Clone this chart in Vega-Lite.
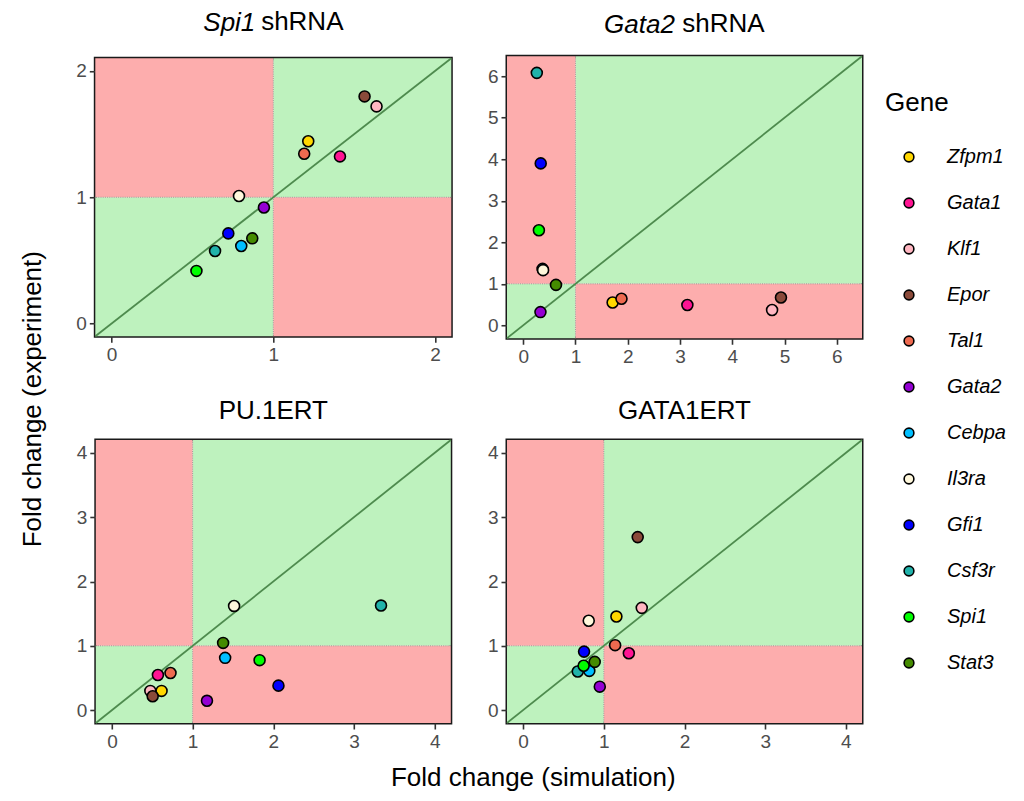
{
  "$schema": "https://vega.github.io/schema/vega-lite/v6.json",
  "padding": {"left": 20, "top": 7, "right": 5, "bottom": 5},
  "datasets": {
    "genes": [
      {"panel": "Spi1", "gene": "Zfpm1", "sim": 1.216, "exp": 1.443},
      {"panel": "Spi1", "gene": "Gata1", "sim": 1.412, "exp": 1.323},
      {"panel": "Spi1", "gene": "Klf1", "sim": 1.638, "exp": 1.719},
      {"panel": "Spi1", "gene": "Epor", "sim": 1.564, "exp": 1.798},
      {"panel": "Spi1", "gene": "Tal1", "sim": 1.191, "exp": 1.344},
      {"panel": "Spi1", "gene": "Gata2", "sim": 0.942, "exp": 0.919},
      {"panel": "Spi1", "gene": "Cebpa", "sim": 0.802, "exp": 0.614},
      {"panel": "Spi1", "gene": "Il3ra", "sim": 0.788, "exp": 1.01},
      {"panel": "Spi1", "gene": "Gfi1", "sim": 0.722, "exp": 0.714},
      {"panel": "Spi1", "gene": "Csf3r", "sim": 0.64, "exp": 0.575},
      {"panel": "Spi1", "gene": "Spi1", "sim": 0.525, "exp": 0.417},
      {"panel": "Spi1", "gene": "Stat3", "sim": 0.87, "exp": 0.675},
      {"panel": "Gata2", "gene": "Zfpm1", "sim": 1.71, "exp": 0.55},
      {"panel": "Gata2", "gene": "Gata1", "sim": 3.14, "exp": 0.49},
      {"panel": "Gata2", "gene": "Klf1", "sim": 4.76, "exp": 0.37},
      {"panel": "Gata2", "gene": "Epor", "sim": 4.93, "exp": 0.67},
      {"panel": "Gata2", "gene": "Tal1", "sim": 1.88, "exp": 0.64},
      {"panel": "Gata2", "gene": "Gata2", "sim": 0.33, "exp": 0.32},
      {"panel": "Gata2", "gene": "Cebpa", "sim": 0.37, "exp": 1.36},
      {"panel": "Gata2", "gene": "Il3ra", "sim": 0.38, "exp": 1.33},
      {"panel": "Gata2", "gene": "Gfi1", "sim": 0.335, "exp": 3.9},
      {"panel": "Gata2", "gene": "Csf3r", "sim": 0.26, "exp": 6.08},
      {"panel": "Gata2", "gene": "Spi1", "sim": 0.3, "exp": 2.29},
      {"panel": "Gata2", "gene": "Stat3", "sim": 0.627, "exp": 0.975},
      {"panel": "PU1", "gene": "Zfpm1", "sim": 0.615, "exp": 0.299},
      {"panel": "PU1", "gene": "Gata1", "sim": 0.57, "exp": 0.546},
      {"panel": "PU1", "gene": "Klf1", "sim": 0.476, "exp": 0.299},
      {"panel": "PU1", "gene": "Epor", "sim": 0.505, "exp": 0.216},
      {"panel": "PU1", "gene": "Tal1", "sim": 0.726, "exp": 0.577},
      {"panel": "PU1", "gene": "Gata2", "sim": 1.178, "exp": 0.145},
      {"panel": "PU1", "gene": "Cebpa", "sim": 1.403, "exp": 0.813},
      {"panel": "PU1", "gene": "Il3ra", "sim": 1.514, "exp": 1.62},
      {"panel": "PU1", "gene": "Gfi1", "sim": 2.064, "exp": 0.381},
      {"panel": "PU1", "gene": "Csf3r", "sim": 3.335, "exp": 1.626},
      {"panel": "PU1", "gene": "Spi1", "sim": 1.83, "exp": 0.777},
      {"panel": "PU1", "gene": "Stat3", "sim": 1.378, "exp": 1.045},
      {"panel": "GATA1", "gene": "Zfpm1", "sim": 1.156, "exp": 1.455},
      {"panel": "GATA1", "gene": "Gata1", "sim": 1.31, "exp": 0.885},
      {"panel": "GATA1", "gene": "Klf1", "sim": 1.47, "exp": 1.59},
      {"panel": "GATA1", "gene": "Epor", "sim": 1.42, "exp": 2.69},
      {"panel": "GATA1", "gene": "Tal1", "sim": 1.14, "exp": 1.01},
      {"panel": "GATA1", "gene": "Gata2", "sim": 0.95, "exp": 0.365},
      {"panel": "GATA1", "gene": "Cebpa", "sim": 0.82, "exp": 0.61},
      {"panel": "GATA1", "gene": "Il3ra", "sim": 0.813, "exp": 1.39},
      {"panel": "GATA1", "gene": "Gfi1", "sim": 0.755, "exp": 0.91},
      {"panel": "GATA1", "gene": "Csf3r", "sim": 0.677, "exp": 0.6},
      {"panel": "GATA1", "gene": "Spi1", "sim": 0.75, "exp": 0.69},
      {"panel": "GATA1", "gene": "Stat3", "sim": 0.887, "exp": 0.75}
    ],
    "zones": [
      {"panel": "Spi1", "agree": "yes", "x1": -0.1, "x2": 1, "y1": -0.1, "y2": 1},
      {"panel": "Spi1", "agree": "yes", "x1": 1, "x2": 2.1, "y1": 1, "y2": 2.1},
      {"panel": "Spi1", "agree": "no", "x1": -0.1, "x2": 1, "y1": 1, "y2": 2.1},
      {"panel": "Spi1", "agree": "no", "x1": 1, "x2": 2.1, "y1": -0.1, "y2": 1},
      {"panel": "Gata2", "agree": "yes", "x1": -0.31, "x2": 1, "y1": -0.31, "y2": 1},
      {"panel": "Gata2", "agree": "yes", "x1": 1, "x2": 6.48, "y1": 1, "y2": 6.48},
      {"panel": "Gata2", "agree": "no", "x1": -0.31, "x2": 1, "y1": 1, "y2": 6.48},
      {"panel": "Gata2", "agree": "no", "x1": 1, "x2": 6.48, "y1": -0.31, "y2": 1},
      {"panel": "PU1", "agree": "yes", "x1": -0.2, "x2": 1, "y1": -0.2, "y2": 1},
      {"panel": "PU1", "agree": "yes", "x1": 1, "x2": 4.2, "y1": 1, "y2": 4.2},
      {"panel": "PU1", "agree": "no", "x1": -0.2, "x2": 1, "y1": 1, "y2": 4.2},
      {"panel": "PU1", "agree": "no", "x1": 1, "x2": 4.2, "y1": -0.2, "y2": 1},
      {"panel": "GATA1", "agree": "yes", "x1": -0.2, "x2": 1, "y1": -0.2, "y2": 1},
      {"panel": "GATA1", "agree": "yes", "x1": 1, "x2": 4.2, "y1": 1, "y2": 4.2},
      {"panel": "GATA1", "agree": "no", "x1": -0.2, "x2": 1, "y1": 1, "y2": 4.2},
      {"panel": "GATA1", "agree": "no", "x1": 1, "x2": 4.2, "y1": -0.2, "y2": 1}
    ],
    "one": [{"k": 1}]
  },
  "title": {"text": "Fold change (experiment)", "orient": "left", "anchor": "middle", "fontSize": 26, "fontWeight": "normal", "color": "#000000", "offset": 28},
  "hconcat": [
    {
      "title": {"text": "Fold change (simulation)", "orient": "bottom", "anchor": "middle", "fontSize": 26, "fontWeight": "normal", "color": "#000000", "offset": 12, "dx": 64},
      "columns": 2,
      "center": true,
      "spacing": {"row": 28, "column": 31},
      "resolve": {"scale": {"x": "independent", "y": "independent"}},
      "concat": [
        {
          "width": 356, "height": 278,
          "title": {"text": "Spi1", "subtitle": "shRNA", "fontStyle": "italic", "subtitleFontStyle": "normal", "fontSize": 26, "subtitleFontSize": 26, "fontWeight": "normal", "color": "#000000", "subtitleColor": "#000000", "subtitlePadding": -27, "dx": 29, "encoding": {"dx": {"value": -44}}, "offset": 20},
          "layer": [
            {"data": {"name": "zones"}, "transform": [{"filter": "datum.panel === 'Spi1'"}], "mark": {"type": "rect"},
             "encoding": {
               "x": {"field": "x1", "type": "quantitative", "scale": {"domain": [-0.1, 2.1], "nice": false, "zero": false}, "axis": {"values": [0, 1, 2], "format": "d"}, "title": null},
               "x2": {"field": "x2"},
               "y": {"field": "y1", "type": "quantitative", "scale": {"domain": [-0.1, 2.1], "nice": false, "zero": false}, "axis": {"values": [0, 1, 2], "format": "d"}, "title": null},
               "y2": {"field": "y2"},
               "fill": {"field": "agree", "type": "nominal", "scale": {"domain": ["yes", "no"], "range": ["#BEF2BE", "#FDADAD"]}, "legend": null}}},
            {"data": {"name": "one"}, "mark": {"type": "rule", "color": "#8C8C8C", "strokeWidth": 0.8, "strokeDash": [1, 1.2]}, "encoding": {"x": {"datum": 1}}},
            {"data": {"name": "one"}, "mark": {"type": "rule", "color": "#8C8C8C", "strokeWidth": 0.8, "strokeDash": [1, 1.2]}, "encoding": {"y": {"datum": 1}}},
            {"data": {"name": "one"}, "mark": {"type": "rule", "color": "#4E8B4E", "strokeWidth": 1.8}, "encoding": {"x": {"datum": -0.1}, "y": {"datum": -0.1}, "x2": {"datum": 2.1}, "y2": {"datum": 2.1}}},
            {"data": {"name": "genes"}, "transform": [{"filter": "datum.panel === 'Spi1'"}], "mark": {"type": "point", "filled": true, "size": 120, "stroke": "#000000", "strokeWidth": 1.6, "opacity": 1},
             "encoding": {
               "x": {"field": "sim", "type": "quantitative"},
               "y": {"field": "exp", "type": "quantitative"},
               "color": {"field": "gene", "type": "nominal", "title": "Gene",
                 "scale": {"domain": ["Zfpm1", "Gata1", "Klf1", "Epor", "Tal1", "Gata2", "Cebpa", "Il3ra", "Gfi1", "Csf3r", "Spi1", "Stat3"],
                           "range": ["#FFD700", "#FF1493", "#FFB6C1", "#8B4A3A", "#EE6A50", "#9400D3", "#00BFFF", "#FFF8DC", "#0000FF", "#20B2AA", "#00FF00", "#458B00"]},
                 "legend": {"orient": "none", "legendX": 790, "legendY": 34, "symbolType": "circle", "symbolSize": 95, "symbolStrokeColor": "#000000", "symbolStrokeWidth": 1.6, "symbolOffset": 14, "labelOffset": 28, "labelFontStyle": "italic", "labelFontSize": 20, "labelColor": "#000000", "titleFontSize": 26, "titleFontWeight": "normal", "titleColor": "#000000", "titlePadding": 31, "rowPadding": 26}}}}
          ]
        },
        {
          "width": 355, "height": 282,
          "title": {"text": "Gata2", "subtitle": "shRNA", "fontStyle": "italic", "subtitleFontStyle": "normal", "fontSize": 26, "subtitleFontSize": 26, "fontWeight": "normal", "color": "#000000", "subtitleColor": "#000000", "subtitlePadding": -27, "dx": 39, "encoding": {"dx": {"value": -45}}, "offset": 16},
          "layer": [
            {"data": {"name": "zones"}, "transform": [{"filter": "datum.panel === 'Gata2'"}], "mark": {"type": "rect"},
             "encoding": {
               "x": {"field": "x1", "type": "quantitative", "scale": {"domain": [-0.31, 6.48], "nice": false, "zero": false}, "axis": {"values": [0, 1, 2, 3, 4, 5, 6], "format": "d"}, "title": null},
               "x2": {"field": "x2"},
               "y": {"field": "y1", "type": "quantitative", "scale": {"domain": [-0.31, 6.48], "nice": false, "zero": false}, "axis": {"values": [0, 1, 2, 3, 4, 5, 6], "format": "d"}, "title": null},
               "y2": {"field": "y2"},
               "fill": {"field": "agree", "type": "nominal", "legend": null}}},
            {"data": {"name": "one"}, "mark": {"type": "rule", "color": "#8C8C8C", "strokeWidth": 0.8, "strokeDash": [1, 1.2]}, "encoding": {"x": {"datum": 1}}},
            {"data": {"name": "one"}, "mark": {"type": "rule", "color": "#8C8C8C", "strokeWidth": 0.8, "strokeDash": [1, 1.2]}, "encoding": {"y": {"datum": 1}}},
            {"data": {"name": "one"}, "mark": {"type": "rule", "color": "#4E8B4E", "strokeWidth": 1.8}, "encoding": {"x": {"datum": -0.31}, "y": {"datum": -0.31}, "x2": {"datum": 6.48}, "y2": {"datum": 6.48}}},
            {"data": {"name": "genes"}, "transform": [{"filter": "datum.panel === 'Gata2'"}], "mark": {"type": "point", "filled": true, "size": 120, "stroke": "#000000", "strokeWidth": 1.6, "opacity": 1},
             "encoding": {
               "x": {"field": "sim", "type": "quantitative"},
               "y": {"field": "exp", "type": "quantitative"},
               "color": {"field": "gene", "type": "nominal", "title": "Gene"}}}
          ]
        },
        {
          "width": 355, "height": 283,
          "title": {"text": "PU.1ERT", "fontSize": 26, "fontWeight": "normal", "color": "#000000", "offset": 15},
          "layer": [
            {"data": {"name": "zones"}, "transform": [{"filter": "datum.panel === 'PU1'"}], "mark": {"type": "rect"},
             "encoding": {
               "x": {"field": "x1", "type": "quantitative", "scale": {"domain": [-0.2, 4.2], "nice": false, "zero": false}, "axis": {"values": [0, 1, 2, 3, 4], "format": "d"}, "title": null},
               "x2": {"field": "x2"},
               "y": {"field": "y1", "type": "quantitative", "scale": {"domain": [-0.2, 4.2], "nice": false, "zero": false}, "axis": {"values": [0, 1, 2, 3, 4], "format": "d"}, "title": null},
               "y2": {"field": "y2"},
               "fill": {"field": "agree", "type": "nominal", "legend": null}}},
            {"data": {"name": "one"}, "mark": {"type": "rule", "color": "#8C8C8C", "strokeWidth": 0.8, "strokeDash": [1, 1.2]}, "encoding": {"x": {"datum": 1}}},
            {"data": {"name": "one"}, "mark": {"type": "rule", "color": "#8C8C8C", "strokeWidth": 0.8, "strokeDash": [1, 1.2]}, "encoding": {"y": {"datum": 1}}},
            {"data": {"name": "one"}, "mark": {"type": "rule", "color": "#4E8B4E", "strokeWidth": 1.8}, "encoding": {"x": {"datum": -0.2}, "y": {"datum": -0.2}, "x2": {"datum": 4.2}, "y2": {"datum": 4.2}}},
            {"data": {"name": "genes"}, "transform": [{"filter": "datum.panel === 'PU1'"}], "mark": {"type": "point", "filled": true, "size": 120, "stroke": "#000000", "strokeWidth": 1.6, "opacity": 1},
             "encoding": {
               "x": {"field": "sim", "type": "quantitative"},
               "y": {"field": "exp", "type": "quantitative"},
               "color": {"field": "gene", "type": "nominal", "title": "Gene"}}}
          ]
        },
        {
          "width": 355, "height": 283,
          "title": {"text": "GATA1ERT", "fontSize": 26, "fontWeight": "normal", "color": "#000000", "offset": 15},
          "layer": [
            {"data": {"name": "zones"}, "transform": [{"filter": "datum.panel === 'GATA1'"}], "mark": {"type": "rect"},
             "encoding": {
               "x": {"field": "x1", "type": "quantitative", "scale": {"domain": [-0.2, 4.2], "nice": false, "zero": false}, "axis": {"values": [0, 1, 2, 3, 4], "format": "d"}, "title": null},
               "x2": {"field": "x2"},
               "y": {"field": "y1", "type": "quantitative", "scale": {"domain": [-0.2, 4.2], "nice": false, "zero": false}, "axis": {"values": [0, 1, 2, 3, 4], "format": "d"}, "title": null},
               "y2": {"field": "y2"},
               "fill": {"field": "agree", "type": "nominal", "legend": null}}},
            {"data": {"name": "one"}, "mark": {"type": "rule", "color": "#8C8C8C", "strokeWidth": 0.8, "strokeDash": [1, 1.2]}, "encoding": {"x": {"datum": 1}}},
            {"data": {"name": "one"}, "mark": {"type": "rule", "color": "#8C8C8C", "strokeWidth": 0.8, "strokeDash": [1, 1.2]}, "encoding": {"y": {"datum": 1}}},
            {"data": {"name": "one"}, "mark": {"type": "rule", "color": "#4E8B4E", "strokeWidth": 1.8}, "encoding": {"x": {"datum": -0.2}, "y": {"datum": -0.2}, "x2": {"datum": 4.2}, "y2": {"datum": 4.2}}},
            {"data": {"name": "genes"}, "transform": [{"filter": "datum.panel === 'GATA1'"}], "mark": {"type": "point", "filled": true, "size": 120, "stroke": "#000000", "strokeWidth": 1.6, "opacity": 1},
             "encoding": {
               "x": {"field": "sim", "type": "quantitative"},
               "y": {"field": "exp", "type": "quantitative"},
               "color": {"field": "gene", "type": "nominal", "title": "Gene"}}}
          ]
        }
      ]
    }
  ],
  "config": {
    "font": "Liberation Sans",
    "view": {"stroke": "#1A1A1A", "strokeWidth": 3},
    "axis": {"domain": false, "grid": false, "ticks": true, "tickColor": "#333333", "tickWidth": 1.6, "tickSize": 6, "labelColor": "#4D4D4D", "labelFontSize": 19, "labelPadding": 3, "labelFont": "Liberation Sans"},
    "title": {"font": "Liberation Sans", "subtitleFont": "Liberation Sans"},
    "legend": {"labelFont": "Liberation Sans", "titleFont": "Liberation Sans"}
  }
}
